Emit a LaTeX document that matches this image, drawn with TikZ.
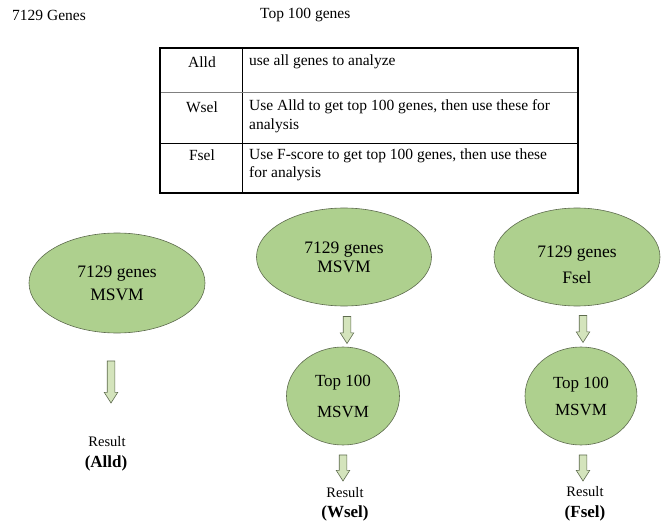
\documentclass[tikz,border=0pt]{standalone}
\usepackage{fontspec}
\setmainfont{Liberation Serif}
\usetikzlibrary{shapes.geometric,shapes.arrows}
\definecolor{ovalfill}{HTML}{AED08E}
\definecolor{ovaledge}{HTML}{5E6B4E}
\definecolor{arrowfill}{HTML}{D4E4BC}
\begin{document}
\begin{tikzpicture}[x=1pt,y=-1pt,
  oval/.style={ellipse, draw=ovaledge, line width=0.6pt, fill=ovalfill, inner sep=0pt, align=center, font=\fontsize{17.5}{23}\selectfont},
  ovaltext/.style={inner sep=0pt, align=center},
  downarrow/.style={single arrow, draw=ovaledge, fill=arrowfill, line width=0.6pt, rotate=-90, inner sep=0pt, text height=3.5pt, text depth=3.5pt, text width=0pt, single arrow head extend=3pt, single arrow tip angle=65},
  hdr/.style={inner sep=0pt, font=\fontsize{15.5}{18}\selectfont},
  tbl/.style={inner sep=0pt, font=\fontsize{15.5}{18.5}\selectfont},
  res/.style={inner sep=0pt, font=\fontsize{14.5}{17}\selectfont},
  resb/.style={inner sep=0pt, font=\fontsize{17}{20}\selectfont\bfseries}]
\useasboundingbox (0,0) rectangle (662,524);

% headings
\node[hdr, anchor=west] (h1) at (12,15) {7129 Genes};
\node[hdr, anchor=west] (h2) at (260,15) {Top 100 genes};

% legend table
\draw[line width=0.7pt] (242,48) -- (242,193);
\draw[gray, line width=0.9pt] (160,92) -- (578,92);
\draw[line width=0.7pt] (160,143) -- (578,143);
\draw[line width=1.6pt] (160,48) rectangle (578,193);
\node[tbl] (k1) at (202,62) {Alld};
\node[tbl, anchor=west] (d1) at (249,62) {use all genes to analyze};
\node[tbl] (k2) at (202,107) {Wsel};
\node[tbl, anchor=west, align=left] (d2) at (249,116) {Use Alld to get top 100 genes, then use these for\\analysis};
\node[tbl] (k3) at (202,155) {Fsel};
\node[tbl, anchor=west, align=left] (d3) at (249,165) {Use F-score to get top 100 genes, then use these\\for analysis};

% Alld branch
\node[oval, minimum width=176pt, minimum height=100pt] (a1) at (117,283) {7129 genes\\MSVM};
\node[downarrow, minimum height=42pt] (a2) at (111,379) {};
\node[res] (a3) at (107,442) {Result};
\node[resb] (a4) at (106,463) {(Alld)};

% Wsel branch
\node[oval, minimum width=175pt, minimum height=98pt, font=\fontsize{17.5}{19}\selectfont] (b1) at (344,257) {7129 genes\\MSVM};
\node[downarrow, minimum height=27pt] (b2) at (347,327) {};
\node[oval, minimum width=113pt, minimum height=98pt, font=\fontsize{17}{31}\selectfont] (b3) at (343,396) {Top 100\\MSVM};
\node[downarrow, minimum height=26pt] (b4) at (343,465) {};
\node[res] (b5) at (345,493) {Result};
\node[resb] (b6) at (345,513) {(Wsel)};

% Fsel branch
\node[oval, minimum width=166pt, minimum height=98pt] (c1) at (577,257) {};
\node[ovaltext, font=\fontsize{17.5}{26}\selectfont] (c1t) at (577,265) {7129 genes\\Fsel};
\node[downarrow, minimum height=27pt] (c2) at (583,326) {};
\node[oval, minimum width=112pt, minimum height=98pt, font=\fontsize{17}{27}\selectfont] (c3) at (581,396) {Top 100\\MSVM};
\node[downarrow, minimum height=26pt] (c4) at (583,465) {};
\node[res] (c5) at (585,492) {Result};
\node[resb] (c6) at (585,513) {(Fsel)};
\end{tikzpicture}
\end{document}
